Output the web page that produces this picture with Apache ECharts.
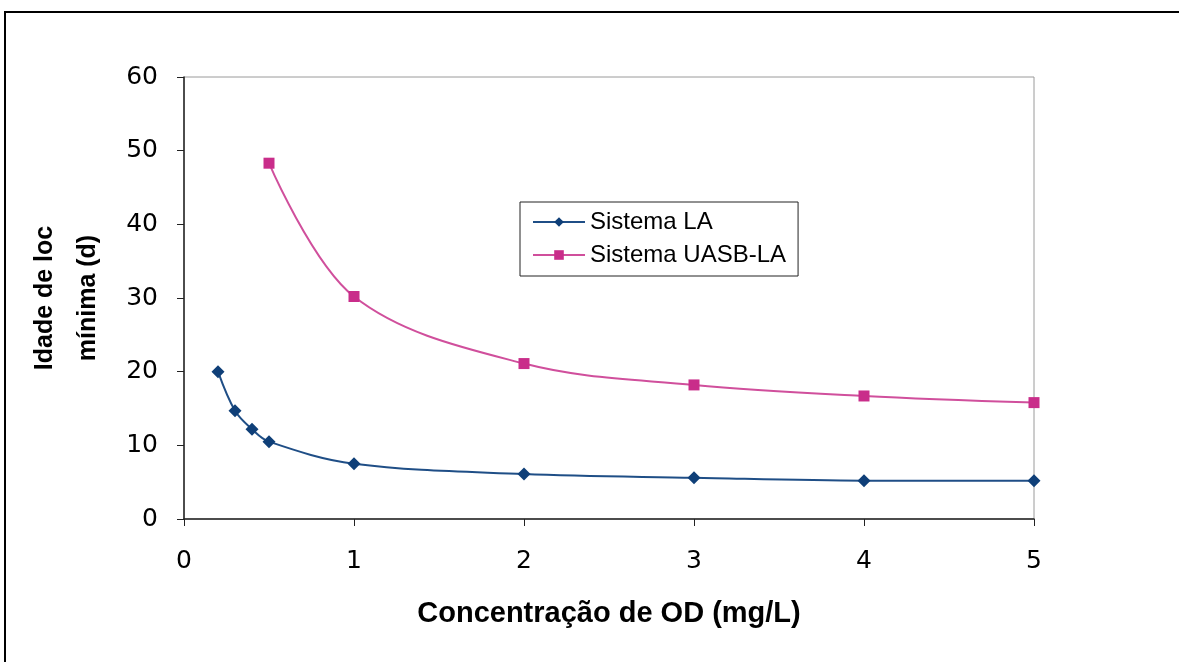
<!DOCTYPE html>
<html><head><meta charset="utf-8">
<script src="https://cdn.jsdelivr.net/npm/echarts@6/dist/echarts.min.js"></script>
<style>html,body{margin:0;padding:0;background:#fff}#c{width:1179px;height:662px}</style>
</head><body><div id="c"></div>
<script>
const xLA = [0.2, 0.3, 0.4, 0.5, 1, 2, 3, 4, 5];
const yLA = [20.0, 14.7, 12.2, 10.5, 7.5, 6.1, 5.6, 5.2, 5.2];
const xUASB = [0.5, 1, 2, 3, 4, 5];
const yUASB = [48.3, 30.2, 21.1, 18.2, 16.7, 15.8];
const seriesNames = ['Sistema LA', 'Sistema UASB-LA'];
const xTitle = 'Concentração de OD (mg/L)';
const yTitle = 'Idade de loc\nmínima (d)';

const chart = echarts.init(document.getElementById('c'), null, {renderer: 'canvas'});
const font = 'Liberation Sans, Arial, sans-serif';
const tickFont = '"DejaVu Sans", sans-serif';
chart.setOption({
  animation: false,
  backgroundColor: '#fff',
  graphic: [{type: 'rect', shape: {x: 5, y: 12, width: 1200, height: 700}, style: {fill: 'none', stroke: '#000', lineWidth: 2}, silent: true}],
  grid: {left: 184, right: 145, top: 77, bottom: 143, show: true, borderColor: '#9a9a9a', borderWidth: 1},
  legend: {
    left: 520, top: 202, orient: 'vertical', itemGap: 9, itemWidth: 52, itemHeight: 12,
    padding: [8, 12, 9, 12], borderColor: '#222', borderWidth: 1,
    textStyle: {fontFamily: font, fontSize: 24, color: '#000', letterSpacing: -0.9},
    data: seriesNames
  },
  xAxis: {
    type: 'value', min: 0, max: 5, interval: 1,
    name: xTitle, nameLocation: 'middle', nameGap: 80,
    nameTextStyle: {fontFamily: font, fontSize: 29, fontWeight: 'bold', color: '#000', letterSpacing: -1.6},
    axisLine: {show: true, lineStyle: {color: '#222', width: 1.5}},
    axisTick: {show: true, length: 7, lineStyle: {color: '#222'}},
    axisLabel: {fontFamily: tickFont, fontSize: 25, color: '#000', margin: 30},
    splitLine: {show: false}
  },
  yAxis: {
    type: 'value', min: 0, max: 60, interval: 10,
    name: yTitle, nameLocation: 'middle', nameGap: 74, nameRotate: 90,
    nameTextStyle: {fontFamily: font, fontSize: 25, fontWeight: 'bold', color: '#000', lineHeight: 43, letterSpacing: -1},
    axisLine: {show: true, lineStyle: {color: '#222', width: 1.5}},
    axisTick: {show: true, length: 7, lineStyle: {color: '#222'}},
    axisLabel: {fontFamily: tickFont, fontSize: 25, color: '#000', margin: 26},
    splitLine: {show: false}
  },
  series: [
    {
      name: seriesNames[0], type: 'line', smooth: 0.35,
      data: xLA.map((x, i) => [x, yLA[i]]),
      symbol: 'diamond', symbolSize: 13,
      lineStyle: {color: '#1f4e86', width: 2},
      itemStyle: {color: '#0f3f78'}
    },
    {
      name: seriesNames[1], type: 'line', smooth: 0.35,
      data: xUASB.map((x, i) => [x, yUASB[i]]),
      symbol: 'rect', symbolSize: 11,
      lineStyle: {color: '#d04f9c', width: 2},
      itemStyle: {color: '#c92d8a'}
    }
  ]
});
</script></body></html>
